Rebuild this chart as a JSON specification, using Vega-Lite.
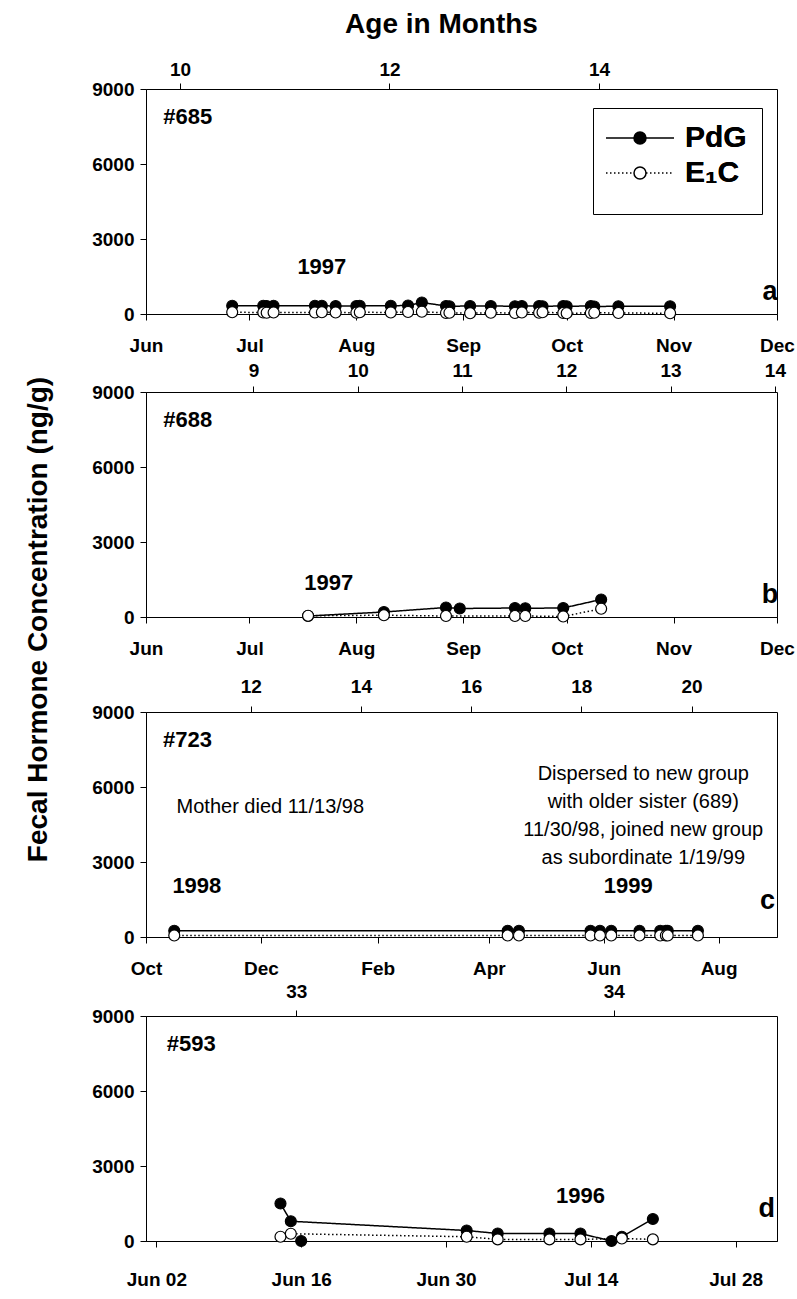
{
  "$schema": "https://vega.github.io/schema/vega-lite/v6.json",
  "padding": {"left": 25, "top": 9, "right": 2, "bottom": 5},
  "background": "white",
  "title": {"text": "Fecal Hormone Concentration (ng/g)", "orient": "left", "anchor": "middle", "fontSize": 28, "fontWeight": "bold", "font": "Liberation Sans", "color": "black", "offset": 38, "dx": 30},
  "config": {
    "font": "Liberation Sans",
    "view": {"stroke": "black", "strokeWidth": 1},
    "axis": {
      "labelFont": "Liberation Sans", "labelFontSize": 19, "labelFontWeight": "bold", "labelColor": "black",
      "domainColor": "black", "tickColor": "black", "tickSize": 6, "grid": false, "labelPadding": 6, "labelFlush": false,
      "titleFont": "Liberation Sans", "titleFontWeight": "bold", "titleColor": "black"
    },
    "axisBottom": {"labelPadding": 16},
    "text": {"font": "Liberation Sans", "color": "black"}
  },
  "datasets": {
    "a": [
      {"date": "1997-06-26", "hormone": "PdG", "value": 330},
      {"date": "1997-07-05", "hormone": "PdG", "value": 330},
      {"date": "1997-07-06", "hormone": "PdG", "value": 320},
      {"date": "1997-07-08", "hormone": "PdG", "value": 330},
      {"date": "1997-07-20", "hormone": "PdG", "value": 330},
      {"date": "1997-07-22", "hormone": "PdG", "value": 330},
      {"date": "1997-07-26", "hormone": "PdG", "value": 320},
      {"date": "1997-08-01", "hormone": "PdG", "value": 320},
      {"date": "1997-08-02", "hormone": "PdG", "value": 330},
      {"date": "1997-08-11", "hormone": "PdG", "value": 330},
      {"date": "1997-08-16", "hormone": "PdG", "value": 340},
      {"date": "1997-08-20", "hormone": "PdG", "value": 460},
      {"date": "1997-08-27", "hormone": "PdG", "value": 320},
      {"date": "1997-08-28", "hormone": "PdG", "value": 310},
      {"date": "1997-09-03", "hormone": "PdG", "value": 320},
      {"date": "1997-09-09", "hormone": "PdG", "value": 320},
      {"date": "1997-09-16", "hormone": "PdG", "value": 310},
      {"date": "1997-09-18", "hormone": "PdG", "value": 320},
      {"date": "1997-09-23", "hormone": "PdG", "value": 320},
      {"date": "1997-09-24", "hormone": "PdG", "value": 310},
      {"date": "1997-09-30", "hormone": "PdG", "value": 320},
      {"date": "1997-10-01", "hormone": "PdG", "value": 310},
      {"date": "1997-10-08", "hormone": "PdG", "value": 320},
      {"date": "1997-10-09", "hormone": "PdG", "value": 300},
      {"date": "1997-10-16", "hormone": "PdG", "value": 310},
      {"date": "1997-10-31", "hormone": "PdG", "value": 310},
      {"date": "1997-06-26", "hormone": "E₁C", "value": 70},
      {"date": "1997-07-05", "hormone": "E₁C", "value": 60},
      {"date": "1997-07-06", "hormone": "E₁C", "value": 50},
      {"date": "1997-07-08", "hormone": "E₁C", "value": 60},
      {"date": "1997-07-20", "hormone": "E₁C", "value": 60},
      {"date": "1997-07-22", "hormone": "E₁C", "value": 70},
      {"date": "1997-07-26", "hormone": "E₁C", "value": 60},
      {"date": "1997-08-01", "hormone": "E₁C", "value": 50},
      {"date": "1997-08-02", "hormone": "E₁C", "value": 70},
      {"date": "1997-08-11", "hormone": "E₁C", "value": 60},
      {"date": "1997-08-16", "hormone": "E₁C", "value": 80},
      {"date": "1997-08-20", "hormone": "E₁C", "value": 90},
      {"date": "1997-08-27", "hormone": "E₁C", "value": 40},
      {"date": "1997-08-28", "hormone": "E₁C", "value": 50},
      {"date": "1997-09-03", "hormone": "E₁C", "value": 30},
      {"date": "1997-09-09", "hormone": "E₁C", "value": 50},
      {"date": "1997-09-16", "hormone": "E₁C", "value": 40},
      {"date": "1997-09-18", "hormone": "E₁C", "value": 60},
      {"date": "1997-09-23", "hormone": "E₁C", "value": 50},
      {"date": "1997-09-24", "hormone": "E₁C", "value": 70},
      {"date": "1997-09-30", "hormone": "E₁C", "value": 40},
      {"date": "1997-10-01", "hormone": "E₁C", "value": 30},
      {"date": "1997-10-08", "hormone": "E₁C", "value": 40},
      {"date": "1997-10-09", "hormone": "E₁C", "value": 50},
      {"date": "1997-10-16", "hormone": "E₁C", "value": 40},
      {"date": "1997-10-31", "hormone": "E₁C", "value": 30}
    ],
    "b": [
      {"date": "1997-07-18", "hormone": "PdG", "value": 40},
      {"date": "1997-08-09", "hormone": "PdG", "value": 200},
      {"date": "1997-08-27", "hormone": "PdG", "value": 380},
      {"date": "1997-08-31", "hormone": "PdG", "value": 340},
      {"date": "1997-09-16", "hormone": "PdG", "value": 360},
      {"date": "1997-09-19", "hormone": "PdG", "value": 350},
      {"date": "1997-09-30", "hormone": "PdG", "value": 360},
      {"date": "1997-10-11", "hormone": "PdG", "value": 700},
      {"date": "1997-07-18", "hormone": "E₁C", "value": 50},
      {"date": "1997-08-09", "hormone": "E₁C", "value": 70},
      {"date": "1997-08-27", "hormone": "E₁C", "value": 40},
      {"date": "1997-09-16", "hormone": "E₁C", "value": 40},
      {"date": "1997-09-19", "hormone": "E₁C", "value": 40},
      {"date": "1997-09-30", "hormone": "E₁C", "value": 20},
      {"date": "1997-10-11", "hormone": "E₁C", "value": 330}
    ],
    "c": [
      {"date": "1998-10-16", "hormone": "PdG", "value": 250},
      {"date": "1999-04-11", "hormone": "PdG", "value": 250},
      {"date": "1999-04-17", "hormone": "PdG", "value": 250},
      {"date": "1999-05-25", "hormone": "PdG", "value": 250},
      {"date": "1999-05-30", "hormone": "PdG", "value": 250},
      {"date": "1999-06-05", "hormone": "PdG", "value": 250},
      {"date": "1999-06-20", "hormone": "PdG", "value": 250},
      {"date": "1999-07-01", "hormone": "PdG", "value": 250},
      {"date": "1999-07-04", "hormone": "PdG", "value": 250},
      {"date": "1999-07-05", "hormone": "PdG", "value": 250},
      {"date": "1999-07-21", "hormone": "PdG", "value": 250},
      {"date": "1998-10-16", "hormone": "E₁C", "value": 60},
      {"date": "1999-04-11", "hormone": "E₁C", "value": 60},
      {"date": "1999-04-17", "hormone": "E₁C", "value": 60},
      {"date": "1999-05-25", "hormone": "E₁C", "value": 60},
      {"date": "1999-05-30", "hormone": "E₁C", "value": 60},
      {"date": "1999-06-05", "hormone": "E₁C", "value": 60},
      {"date": "1999-06-20", "hormone": "E₁C", "value": 60},
      {"date": "1999-07-01", "hormone": "E₁C", "value": 60},
      {"date": "1999-07-04", "hormone": "E₁C", "value": 60},
      {"date": "1999-07-05", "hormone": "E₁C", "value": 60},
      {"date": "1999-07-21", "hormone": "E₁C", "value": 60}
    ],
    "d": [
      {"date": "1996-06-14", "hormone": "PdG", "value": 1500, "run": 1},
      {"date": "1996-06-15", "hormone": "PdG", "value": 790, "run": 1},
      {"date": "1996-06-16", "hormone": "PdG", "value": 0, "run": 2},
      {"date": "1996-07-02", "hormone": "PdG", "value": 420, "run": 1},
      {"date": "1996-07-05", "hormone": "PdG", "value": 300, "run": 1},
      {"date": "1996-07-10", "hormone": "PdG", "value": 300, "run": 1},
      {"date": "1996-07-13", "hormone": "PdG", "value": 300, "run": 1},
      {"date": "1996-07-16", "hormone": "PdG", "value": 0, "run": 1},
      {"date": "1996-07-17", "hormone": "PdG", "value": 170, "run": 1},
      {"date": "1996-07-20", "hormone": "PdG", "value": 880, "run": 1},
      {"date": "1996-06-14", "hormone": "E₁C", "value": 170, "run": 1},
      {"date": "1996-06-15", "hormone": "E₁C", "value": 290, "run": 1},
      {"date": "1996-07-02", "hormone": "E₁C", "value": 170, "run": 1},
      {"date": "1996-07-05", "hormone": "E₁C", "value": 65, "run": 1},
      {"date": "1996-07-10", "hormone": "E₁C", "value": 65, "run": 1},
      {"date": "1996-07-13", "hormone": "E₁C", "value": 65, "run": 1},
      {"date": "1996-07-17", "hormone": "E₁C", "value": 100, "run": 1},
      {"date": "1996-07-20", "hormone": "E₁C", "value": 65, "run": 1}
    ]
  },
  "spacing": 17,
  "vconcat": [
    {
      "spacing": 4,
      "vconcat": [
        {
          "width": 631, "height": 225,
          "layer": [
            {
              "layer": [
                {
                  "data": {"name": "a"},
                  "encoding": {
                    "x": {"field": "date", "type": "temporal",
                      "scale": {"type": "utc", "domain": [{"year": 1997, "month": 6, "date": 1, "utc": true}, {"year": 1997, "month": 12, "date": 1, "utc": true}]},
                      "axis": {"title": null, "format": "%b", "values": [
                        {"year": 1997, "month": 6, "date": 1, "utc": true}, {"year": 1997, "month": 7, "date": 1, "utc": true},
                        {"year": 1997, "month": 8, "date": 1, "utc": true}, {"year": 1997, "month": 9, "date": 1, "utc": true},
                        {"year": 1997, "month": 10, "date": 1, "utc": true}, {"year": 1997, "month": 11, "date": 1, "utc": true},
                        {"year": 1997, "month": 12, "date": 1, "utc": true}]}},
                    "y": {"field": "value", "type": "quantitative", "scale": {"domain": [0, 9000]},
                      "axis": {"title": null, "format": "d", "values": [0, 3000, 6000, 9000]}}
                  },
                  "layer": [
                    {"mark": {"type": "line", "color": "black", "strokeWidth": 1.5},
                     "encoding": {"strokeDash": {"field": "hormone", "type": "nominal",
                       "scale": {"range": [[1.5, 2.5], [1, 0]]},
                       "legend": {"orient": "none", "legendX": 447, "legendY": 19, "title": " ", "titleOrient": "bottom", "titleFontSize": 12, "titlePadding": 0, "values": ["PdG", "E₁C"],
                         "symbolType": "M-3.4,0L3.4,0", "symbolSize": 400, "symbolOffset": 17, "symbolStrokeWidth": 1.5, "symbolStrokeColor": "black",
                         "labelFont": "Liberation Sans", "labelFontSize": 30, "labelFontWeight": "bold", "labelColor": "black",
                         "labelOffset": 30, "rowPadding": 5, "padding": 15, "strokeColor": "black"}}}},
                    {"mark": {"type": "circle", "size": 120, "stroke": "black", "strokeWidth": 1.2, "opacity": 1},
                     "encoding": {"fill": {"field": "hormone", "type": "nominal",
                       "scale": {"domain": ["PdG", "E₁C"], "range": ["black", "white"]},
                       "legend": {"orient": "none", "legendX": 447, "legendY": 19, "title": null, "values": ["PdG", "E₁C"],
                         "symbolType": "M0.6,0A0.6,0.6,0,1,1,-0.6,0A0.6,0.6,0,1,1,0.6,0Z", "symbolSize": 400, "symbolOffset": 17, "symbolStrokeWidth": 1.5, "symbolStrokeColor": "black",
                         "labelFont": "Liberation Sans", "labelFontSize": 30, "labelFontWeight": "bold", "labelColor": "black",
                         "labelOffset": 30, "rowPadding": 5, "padding": 15}}}}
                  ]
                },
                {"data": {"values": [{}]}, "mark": {"type": "text", "text": "#685", "fontSize": 22, "fontWeight": "bold", "align": "left"},
                 "encoding": {"x": {"datum": {"year": 1997, "month": 6, "date": 6, "utc": true}, "type": "temporal"}, "y": {"datum": 7900, "type": "quantitative"}}},
                {"data": {"values": [{}]}, "mark": {"type": "text", "text": "1997", "fontSize": 22, "fontWeight": "bold", "align": "center"},
                 "encoding": {"x": {"datum": {"year": 1997, "month": 7, "date": 22, "utc": true}, "type": "temporal"}, "y": {"datum": 1900, "type": "quantitative"}}},
                {"data": {"values": [{}]}, "mark": {"type": "text", "text": "a", "fontSize": 27, "fontWeight": "bold", "align": "center"},
                 "encoding": {"x": {"datum": {"year": 1997, "month": 11, "date": 29, "utc": true}, "type": "temporal"}, "y": {"datum": 900, "type": "quantitative"}}}
              ]
            },
            {
              "data": {"values": [{}]},
              "mark": {"type": "point", "opacity": 0},
              "encoding": {"x": {"datum": 12, "type": "quantitative", "scale": {"domain": [9.675, 15.70]},
                "axis": {"orient": "top", "values": [10, 12, 14], "title": "Age in Months", "titleFontSize": 28, "titlePadding": 22, "titleX": 295, "titleAlign": "center", "labelPadding": 4, "domain": false}}}
            }
          ],
          "resolve": {"scale": {"x": "independent"}}
        },
        {
          "width": 631, "height": 225,
          "layer": [
            {
              "layer": [
                {
                  "data": {"name": "b"},
                  "encoding": {
                    "x": {"field": "date", "type": "temporal",
                      "scale": {"type": "utc", "domain": [{"year": 1997, "month": 6, "date": 1, "utc": true}, {"year": 1997, "month": 12, "date": 1, "utc": true}]},
                      "axis": {"title": null, "format": "%b", "values": [
                        {"year": 1997, "month": 6, "date": 1, "utc": true}, {"year": 1997, "month": 7, "date": 1, "utc": true},
                        {"year": 1997, "month": 8, "date": 1, "utc": true}, {"year": 1997, "month": 9, "date": 1, "utc": true},
                        {"year": 1997, "month": 10, "date": 1, "utc": true}, {"year": 1997, "month": 11, "date": 1, "utc": true},
                        {"year": 1997, "month": 12, "date": 1, "utc": true}]}},
                    "y": {"field": "value", "type": "quantitative", "scale": {"domain": [0, 9000]},
                      "axis": {"title": null, "format": "d", "values": [0, 3000, 6000, 9000]}}
                  },
                  "layer": [
                    {"mark": {"type": "line", "color": "black", "strokeWidth": 1.5},
                     "encoding": {"strokeDash": {"field": "hormone", "type": "nominal"}}},
                    {"mark": {"type": "circle", "size": 120, "stroke": "black", "strokeWidth": 1.2, "opacity": 1},
                     "encoding": {"fill": {"field": "hormone", "type": "nominal"}}}
                  ]
                },
                {"data": {"values": [{}]}, "mark": {"type": "text", "text": "#688", "fontSize": 22, "fontWeight": "bold", "align": "left"},
                 "encoding": {"x": {"datum": {"year": 1997, "month": 6, "date": 6, "utc": true}, "type": "temporal"}, "y": {"datum": 7900, "type": "quantitative"}}},
                {"data": {"values": [{}]}, "mark": {"type": "text", "text": "1997", "fontSize": 22, "fontWeight": "bold", "align": "center"},
                 "encoding": {"x": {"datum": {"year": 1997, "month": 7, "date": 24, "utc": true}, "type": "temporal"}, "y": {"datum": 1350, "type": "quantitative"}}},
                {"data": {"values": [{}]}, "mark": {"type": "text", "text": "b", "fontSize": 27, "fontWeight": "bold", "align": "center"},
                 "encoding": {"x": {"datum": {"year": 1997, "month": 11, "date": 29, "utc": true}, "type": "temporal"}, "y": {"datum": 900, "type": "quantitative"}}}
              ]
            },
            {
              "data": {"values": [{}]},
              "mark": {"type": "point", "opacity": 0},
              "encoding": {"x": {"datum": 10, "type": "quantitative", "scale": {"domain": [7.97, 14.02]},
                "axis": {"orient": "top", "values": [9, 10, 11, 12, 13, 14], "title": null, "domain": false}}}
            }
          ],
          "resolve": {"scale": {"x": "independent"}}
        }
      ]
    },
    {
      "spacing": 2,
      "vconcat": [
        {
          "width": 631, "height": 225,
          "layer": [
            {
              "layer": [
                {
                  "data": {"name": "c"},
                  "encoding": {
                    "x": {"field": "date", "type": "temporal",
                      "scale": {"type": "utc", "domain": [{"year": 1998, "month": 10, "date": 1, "utc": true}, {"year": 1999, "month": 9, "date": 1, "utc": true}]},
                      "axis": {"title": null, "format": "%b", "values": [
                        {"year": 1998, "month": 10, "date": 1, "utc": true}, {"year": 1998, "month": 12, "date": 1, "utc": true},
                        {"year": 1999, "month": 2, "date": 1, "utc": true}, {"year": 1999, "month": 4, "date": 1, "utc": true},
                        {"year": 1999, "month": 6, "date": 1, "utc": true}, {"year": 1999, "month": 8, "date": 1, "utc": true}]}},
                    "y": {"field": "value", "type": "quantitative", "scale": {"domain": [0, 9000]},
                      "axis": {"title": null, "format": "d", "values": [0, 3000, 6000, 9000]}}
                  },
                  "layer": [
                    {"mark": {"type": "line", "color": "black", "strokeWidth": 1.5},
                     "encoding": {"strokeDash": {"field": "hormone", "type": "nominal"}}},
                    {"mark": {"type": "circle", "size": 120, "stroke": "black", "strokeWidth": 1.2, "opacity": 1},
                     "encoding": {"fill": {"field": "hormone", "type": "nominal"}}}
                  ]
                },
                {"data": {"values": [{}]}, "mark": {"type": "text", "text": "#723", "fontSize": 22, "fontWeight": "bold", "align": "left"},
                 "encoding": {"x": {"datum": {"year": 1998, "month": 10, "date": 10, "utc": true}, "type": "temporal"}, "y": {"datum": 7900, "type": "quantitative"}}},
                {"data": {"values": [{}]}, "mark": {"type": "text", "text": "Mother died 11/13/98", "fontSize": 20, "align": "center"},
                 "encoding": {"x": {"datum": {"year": 1998, "month": 12, "date": 6, "utc": true}, "type": "temporal"}, "y": {"datum": 5200, "type": "quantitative"}}},
                {"data": {"values": [{}]}, "mark": {"type": "text", "text": ["Dispersed to new group", "with older sister (689)", "11/30/98, joined new group", "as subordinate 1/19/99"], "fontSize": 20, "lineHeight": 28, "align": "center", "baseline": "middle"},
                 "encoding": {"x": {"datum": {"year": 1999, "month": 6, "date": 22, "utc": true}, "type": "temporal"}, "y": {"datum": 6520, "type": "quantitative"}}},
                {"data": {"values": [{}]}, "mark": {"type": "text", "text": "1998", "fontSize": 22, "fontWeight": "bold", "align": "center"},
                 "encoding": {"x": {"datum": {"year": 1998, "month": 10, "date": 28, "utc": true}, "type": "temporal"}, "y": {"datum": 2050, "type": "quantitative"}}},
                {"data": {"values": [{}]}, "mark": {"type": "text", "text": "1999", "fontSize": 22, "fontWeight": "bold", "align": "center"},
                 "encoding": {"x": {"datum": {"year": 1999, "month": 6, "date": 14, "utc": true}, "type": "temporal"}, "y": {"datum": 2050, "type": "quantitative"}}},
                {"data": {"values": [{}]}, "mark": {"type": "text", "text": "c", "fontSize": 27, "fontWeight": "bold", "align": "center"},
                 "encoding": {"x": {"datum": {"year": 1999, "month": 8, "date": 27, "utc": true}, "type": "temporal"}, "y": {"datum": 1450, "type": "quantitative"}}}
              ]
            },
            {
              "data": {"values": [{}]},
              "mark": {"type": "point", "opacity": 0},
              "encoding": {"x": {"datum": 16, "type": "quantitative", "scale": {"domain": [10.10, 21.55]},
                "axis": {"orient": "top", "values": [12, 14, 16, 18, 20], "title": null, "labelPadding": 10, "domain": false}}}
            }
          ],
          "resolve": {"scale": {"x": "independent"}}
        },
        {
          "width": 631, "height": 225,
          "layer": [
            {
              "layer": [
                {
                  "data": {"name": "d"},
                  "encoding": {
                    "x": {"field": "date", "type": "temporal",
                      "scale": {"type": "utc", "domain": [{"year": 1996, "month": 6, "date": 1, "utc": true}, {"year": 1996, "month": 8, "date": 1, "utc": true}]},
                      "axis": {"title": null, "format": "%b %d", "labelPadding": 23, "values": [
                        {"year": 1996, "month": 6, "date": 2, "utc": true}, {"year": 1996, "month": 6, "date": 16, "utc": true},
                        {"year": 1996, "month": 6, "date": 30, "utc": true}, {"year": 1996, "month": 7, "date": 14, "utc": true},
                        {"year": 1996, "month": 7, "date": 28, "utc": true}]}},
                    "y": {"field": "value", "type": "quantitative", "scale": {"domain": [0, 9000]},
                      "axis": {"title": null, "format": "d", "values": [0, 3000, 6000, 9000]}}
                  },
                  "layer": [
                    {"mark": {"type": "line", "color": "black", "strokeWidth": 1.5},
                     "encoding": {"strokeDash": {"field": "hormone", "type": "nominal"}, "detail": {"field": "run", "type": "nominal"}}},
                    {"mark": {"type": "circle", "size": 120, "stroke": "black", "strokeWidth": 1.2, "opacity": 1},
                     "encoding": {"fill": {"field": "hormone", "type": "nominal"}}}
                  ]
                },
                {"data": {"values": [{}]}, "mark": {"type": "text", "text": "#593", "fontSize": 22, "fontWeight": "bold", "align": "left"},
                 "encoding": {"x": {"datum": {"year": 1996, "month": 6, "date": 3, "utc": true}, "type": "temporal"}, "y": {"datum": 7900, "type": "quantitative"}}},
                {"data": {"values": [{}]}, "mark": {"type": "text", "text": "1996", "fontSize": 22, "fontWeight": "bold", "align": "center"},
                 "encoding": {"x": {"datum": {"year": 1996, "month": 7, "date": 13, "utc": true}, "type": "temporal"}, "y": {"datum": 1800, "type": "quantitative"}}},
                {"data": {"values": [{}]}, "mark": {"type": "text", "text": "d", "fontSize": 27, "fontWeight": "bold", "align": "center"},
                 "encoding": {"x": {"datum": {"year": 1996, "month": 7, "date": 31, "utc": true}, "type": "temporal"}, "y": {"datum": 1280, "type": "quantitative"}}}
              ]
            },
            {
              "data": {"values": [{}]},
              "mark": {"type": "point", "opacity": 0},
              "encoding": {"x": {"datum": 33, "type": "quantitative", "scale": {"domain": [32.527, 34.514]},
                "axis": {"orient": "top", "values": [33, 34], "title": null, "labelPadding": 9, "domain": false}}}
            }
          ],
          "resolve": {"scale": {"x": "independent"}}
        }
      ]
    }
  ]
}
